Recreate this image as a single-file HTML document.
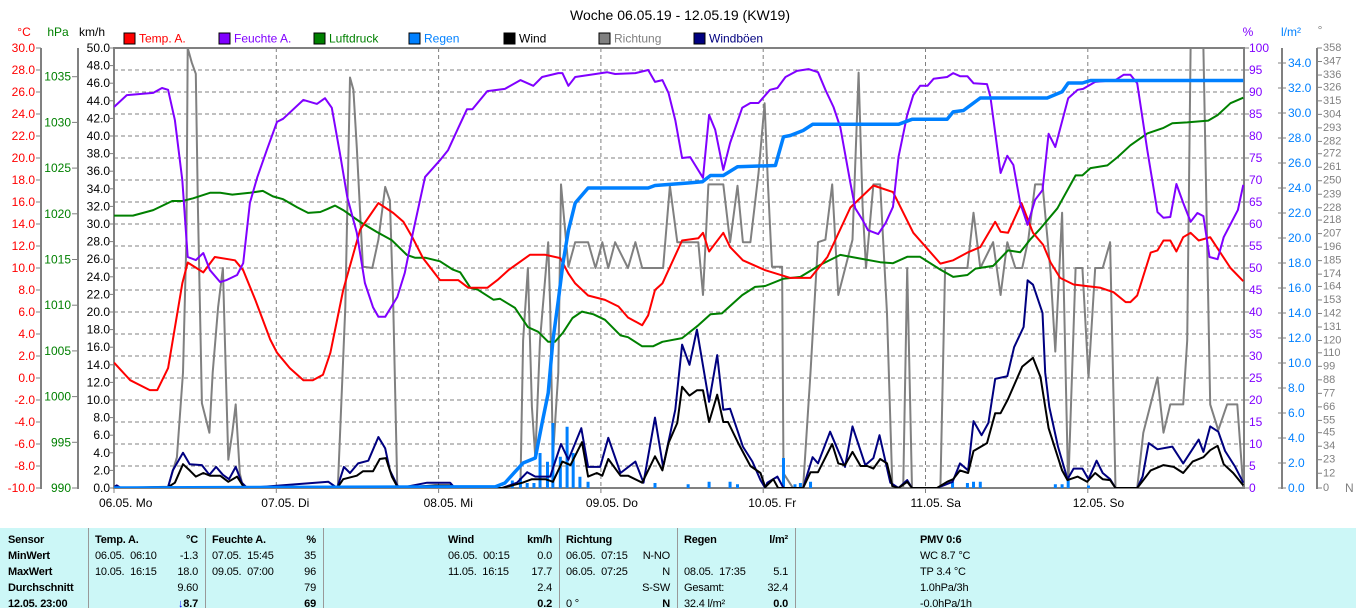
<!DOCTYPE html>
<html><head><meta charset="utf-8">
<style>
body{margin:0;background:#fff;width:1356px;height:608px;overflow:hidden;font-family:"Liberation Sans",sans-serif;}
#wrap{position:relative;width:1356px;height:608px;}
svg{position:absolute;left:0;top:0;}
#tbl{position:absolute;left:0;top:528px;width:1356px;height:80px;background:#ccf7f7;font-size:11px;letter-spacing:-0.2px;color:#000;}
.c{position:absolute;white-space:nowrap;line-height:16px;}
.b{font-weight:bold;}
.vl{position:absolute;top:0;width:1px;height:80px;background:#999;}
</style></head><body>
<div id="wrap">
<svg id="chart" width="1356" height="528" viewBox="0 0 1356 528"></svg>
<div id="tbl">
  <div class="vl" style="left:88px"></div><div class="vl" style="left:205px"></div><div class="vl" style="left:323px"></div>
  <div class="vl" style="left:559px"></div><div class="vl" style="left:677px"></div><div class="vl" style="left:795px"></div>
  <div class="c b" style="left:8px;top:4px">Sensor</div>
  <div class="c b" style="left:8px;top:20px">MinWert</div>
  <div class="c b" style="left:8px;top:36px">MaxWert</div>
  <div class="c b" style="left:8px;top:52px">Durchschnitt</div>
  <div class="c b" style="left:8px;top:68px">12.05. 23:00</div>

  <div class="c b" style="left:95px;top:4px">Temp. A.</div>
  <div class="c b" style="right:1158px;top:4px">°C</div>
  <div class="c" style="left:95px;top:20px">06.05.&nbsp; 06:10</div><div class="c" style="right:1158px;top:20px">-1.3</div>
  <div class="c" style="left:95px;top:36px">10.05.&nbsp; 16:15</div><div class="c" style="right:1158px;top:36px">18.0</div>
  <div class="c" style="right:1158px;top:52px">9.60</div>
  <div class="c b" style="right:1158px;top:68px"><span style="color:#0000ff">↓</span>8.7</div>

  <div class="c b" style="left:212px;top:4px">Feuchte A.</div>
  <div class="c b" style="right:1040px;top:4px">%</div>
  <div class="c" style="left:212px;top:20px">07.05.&nbsp; 15:45</div><div class="c" style="right:1040px;top:20px">35</div>
  <div class="c" style="left:212px;top:36px">09.05.&nbsp; 07:00</div><div class="c" style="right:1040px;top:36px">96</div>
  <div class="c" style="right:1040px;top:52px">79</div>
  <div class="c b" style="right:1040px;top:68px">69</div>

  <div class="c b" style="left:448px;top:4px">Wind</div>
  <div class="c b" style="right:804px;top:4px">km/h</div>
  <div class="c" style="left:448px;top:20px">06.05.&nbsp; 00:15</div><div class="c" style="right:804px;top:20px">0.0</div>
  <div class="c" style="left:448px;top:36px">11.05.&nbsp; 16:15</div><div class="c" style="right:804px;top:36px">17.7</div>
  <div class="c" style="right:804px;top:52px">2.4</div>
  <div class="c b" style="right:804px;top:68px">0.2</div>

  <div class="c b" style="left:566px;top:4px">Richtung</div>
  <div class="c" style="left:566px;top:20px">06.05.&nbsp; 07:15</div><div class="c" style="right:686px;top:20px">N-NO</div>
  <div class="c" style="left:566px;top:36px">06.05.&nbsp; 07:25</div><div class="c" style="right:686px;top:36px">N</div>
  <div class="c" style="right:686px;top:52px">S-SW</div>
  <div class="c" style="left:566px;top:68px">0 °</div><div class="c b" style="right:686px;top:68px">N</div>

  <div class="c b" style="left:684px;top:4px">Regen</div>
  <div class="c b" style="right:568px;top:4px">l/m²</div>
  <div class="c" style="left:684px;top:36px">08.05.&nbsp; 17:35</div><div class="c" style="right:568px;top:36px">5.1</div>
  <div class="c" style="left:684px;top:52px">Gesamt:</div><div class="c" style="right:568px;top:52px">32.4</div>
  <div class="c" style="left:684px;top:68px">32.4 l/m²</div><div class="c b" style="right:568px;top:68px">0.0</div>

  <div class="c b" style="left:920px;top:4px">PMV 0:6</div>
  <div class="c" style="left:920px;top:20px">WC 8.7 °C</div>
  <div class="c" style="left:920px;top:36px">TP 3.4 °C</div>
  <div class="c" style="left:920px;top:52px">1.0hPa/3h</div>
  <div class="c" style="left:920px;top:68px">-0.0hPa/1h</div>
</div>
</div>
<script>
const dayLabels = ["06.05. Mo","07.05. Di","08.05. Mi","09.05. Do","10.05. Fr","11.05. Sa","12.05. So"];
const dirTicks = [358,347,336,326,315,304,293,282,272,261,250,239,228,218,207,196,185,174,164,153,142,131,120,110,99,88,77,66,55,45,34,23,12,0];
const temp = [[0,1.4],[2.4,-0.2],[5.3,-1.1],[6.4,-1.1],[8,0.9],[10.1,8.6],[10.9,10.5],[13.2,9.6],[14.9,11],[17.9,10.7],[19.1,9.8],[20.9,7.1],[23.1,3.5],[24.1,2.3],[26,0.9],[28,-0.2],[29.4,-0.2],[30.9,0.3],[32,2.3],[33.9,8],[36.4,13.5],[39.1,15.9],[41.3,15],[42.8,14.2],[44.2,12.7],[45.7,10.9],[48.2,8.9],[50.9,8.9],[52.4,8.2],[55.2,8.2],[56.7,8.9],[58.3,9.8],[61.5,11.2],[63.8,11.2],[66,10.9],[67.2,9.5],[68.2,8.6],[70.1,7.5],[72.6,7.1],[74.6,6.5],[76,5.5],[78.1,4.8],[79,5.7],[80,8],[81.1,8.6],[84,12.5],[86.4,12.7],[87.1,13.2],[88,11.5],[90.1,13.2],[91.1,11.9],[93,10.7],[96.3,9.8],[100,9.1],[103,9.1],[105.5,11],[108.9,15.5],[112.3,17.5],[115.2,16.9],[118.2,13.2],[122.2,10.4],[124.1,10.7],[126.2,11.4],[128.1,11.9],[130.3,14.2],[131.1,13.3],[132.2,13.2],[134.2,15.9],[135.9,13.2],[137.4,12.1],[138.5,10.5],[139.9,9.1],[141.9,8.5],[145.9,8.2],[147.8,7.8],[149.6,6.9],[150.3,6.9],[151.3,7.5],[153.3,11.4],[154.3,11.6],[155.2,12.5],[156.2,12.5],[157.1,11.5],[158.1,12.8],[159.2,13.2],[160.4,12.5],[162.1,12.8],[163.6,11.4],[165.1,10],[167,8.8]];
const humidity = [[0,86.6],[1.9,89.3],[5.8,89.8],[7.1,90.9],[8,90.5],[9,83.6],[10.1,70],[10.9,52.5],[12.1,51.8],[13.2,53.4],[14.2,49.5],[15.7,46.8],[16.7,47.3],[18.2,48.4],[19.1,51.1],[20.1,64.8],[21.2,70.7],[22.6,76.8],[24.1,83.2],[25,83.9],[28,88.2],[30,87.3],[31.2,88.6],[32.2,86.4],[33.4,76.1],[34.5,66.1],[35.9,58],[37.1,46.6],[38.3,41.1],[39.1,38.9],[40.1,38.9],[41.9,43.4],[43,48.9],[44.2,58],[46,70.7],[48.2,74.5],[49.4,76.8],[50.9,81.8],[52.2,86.1],[53,86.1],[55.2,90.2],[57.8,90.7],[60.1,92.7],[62,91.4],[63.3,93.4],[65.7,94.3],[66.3,94.3],[67.2,91.4],[68.2,93.4],[71.2,94.1],[72.9,94.5],[74.1,94.1],[77.1,94.3],[79,95],[80,92.3],[81.1,92.7],[82,89.8],[83,83.6],[84,75],[85.2,75.2],[87.1,70.5],[88,84.8],[88.9,81.4],[90.1,72.3],[91.1,78.4],[92.9,86.4],[94.1,87.5],[95.3,87.5],[97,90.5],[98.1,90.9],[99.3,93.4],[101,94.8],[102.7,95.2],[104.1,94.5],[105.2,90.5],[106.4,86.6],[107.4,82],[108.1,76.1],[108.9,69.3],[109.6,63.6],[110.7,60.9],[111.5,58.6],[113,57.7],[114.1,60.2],[115.2,63.9],[116,75.2],[117.3,84.8],[118.2,89.3],[119.2,91.4],[120.3,91.4],[121.2,93],[123.2,93.4],[124.1,94.3],[125.1,93.6],[126.2,93.6],[127.1,92],[129.1,91.8],[129.6,88.9],[131.1,71.6],[132.1,75.5],[133,73.4],[134,64.8],[135.1,59.8],[136.2,65.5],[137.3,67.7],[138.2,80.5],[139.2,77.5],[141.1,88.6],[142.5,90.5],[143.3,90.7],[145.1,92.3],[148.1,92.7],[149.3,93.9],[150.3,93.9],[151.3,92],[152.8,76.8],[154.3,62.7],[155.2,61.4],[156.2,61.6],[157.1,69.1],[158.1,64.8],[159.2,60.5],[160.2,62.5],[161.1,61.8],[162,52.5],[163.2,52],[164.1,57],[166.2,63.2],[167,68.9]];
const pressure = [[0,1019.8],[2.8,1019.8],[4.3,1020.1],[5.8,1020.4],[8.6,1021.4],[10.1,1021.4],[11.7,1021.7],[14.2,1022.3],[15.7,1022.3],[17.5,1022.1],[20.1,1022.3],[22,1022.5],[23.5,1021.9],[25,1021.6],[27.1,1020.7],[28.7,1020.1],[30.5,1020.2],[31.5,1020.5],[32.7,1020.9],[33.9,1020.4],[36.4,1019.1],[38.9,1018],[41.1,1017.1],[43.3,1015.5],[44.5,1015.2],[46,1015.2],[48.2,1014.8],[50.1,1013.9],[51.2,1013.6],[52.7,1011.9],[53.8,1011.7],[56.1,1010.6],[57.1,1010.7],[59.3,1009.7],[61.2,1007.6],[62.7,1007.1],[64.2,1006],[65.2,1006],[66.4,1007],[67.8,1008.6],[69.2,1009.3],[70.9,1009],[72.6,1008.4],[74.9,1006.7],[76,1006.5],[78.1,1005.5],[79.7,1005.5],[81.1,1006],[84,1006.4],[86.4,1007.8],[88.2,1009],[89.9,1009.1],[92.9,1011.1],[94.8,1012],[96.3,1012.1],[99,1012.9],[101.5,1013.1],[104.4,1014.4],[107.4,1015.5],[110.4,1015.1],[113.3,1014.7],[115.2,1014.6],[117.3,1015.3],[119.2,1015.3],[122.2,1013.9],[124.1,1013.1],[126.2,1013.3],[127.4,1014],[130,1014.3],[132.2,1016],[134,1015.8],[135.5,1017.2],[137,1018.4],[139.5,1020.6],[142.2,1024.2],[143.2,1024.2],[144.4,1025],[146.9,1025.3],[148.4,1026.2],[150.3,1027.5],[152.8,1028.8],[155.2,1029.4],[156.5,1029.9],[158.7,1030],[161.8,1030.2],[163.2,1030.8],[165.1,1032.1],[167,1032.7]];
const rainTotal = [[0,0],[56.4,0.1],[57.8,0.4],[59.3,1.3],[60.5,2],[62.3,2.4],[63.3,5.2],[64.2,7.6],[64.9,11.8],[65.7,15],[66.4,18],[67.2,20.6],[68.2,22.8],[70.1,24],[79,24],[80,24.2],[84.9,24.4],[87,24.5],[88.2,25],[90.1,25],[92.2,25.7],[97.8,25.8],[99,28.1],[100,28.2],[101.9,28.6],[103.3,29.1],[116,29.1],[118,29.5],[123.2,29.5],[124.1,30.1],[125.6,30.2],[128.1,31.2],[138,31.2],[140.2,31.7],[141.1,32.4],[143.2,32.4],[144.4,32.6],[167,32.6]];
const rainBars = [[58.9,0.6],[60.1,0.8],[61.1,0.4],[62.1,0.4],[63,2.8],[64.1,2.1],[64.9,5.2],[66,2.5],[67,4.9],[67.9,2.8],[68.9,0.9],[70.1,0.5],[80,0.4],[84.9,0.3],[88,0.5],[91.1,0.5],[92.2,0.3],[99,2.4],[100.7,0.3],[101.5,0.4],[103,0.5],[124,0.5],[126.2,0.4],[127.1,0.5],[128.1,0.5],[139.2,0.3],[140.2,0.3],[141.1,0.6],[144.1,0.2]];
const wind = [[0,0],[8,0.1],[9,0.6],[10.2,2.7],[11.2,2],[12.1,1.3],[13.2,1.7],[14.2,1.4],[15.7,1.4],[16.9,0.7],[18.2,1.3],[19.1,0.2],[19.7,0],[33,0],[33.9,1],[35.9,1.4],[36.8,1.9],[38.3,1.9],[39.3,3.3],[40.2,3.4],[41.1,1.3],[42,0],[47.5,0.3],[49.7,0.3],[50.4,0],[57.4,0],[60.4,0.6],[61.8,1],[63.8,1],[64.9,0.7],[66.3,3],[67.5,2.6],[69.2,5.2],[70.1,1.3],[71.4,1.7],[72.2,1.4],[73.1,3.3],[74.9,1.4],[76,1.4],[78.1,0.6],[80,3.6],[81.1,2],[82,5.1],[83.3,7.4],[84,11.5],[85.1,10.5],[86.2,11.1],[87.1,11.1],[88,7.5],[89.2,10.6],[90.1,7.5],[90.8,7.5],[92.3,5.1],[94.1,2.5],[95.6,1.7],[96.3,0.1],[97.5,1],[98.2,0],[101.9,0],[103,1.8],[104.1,1.8],[106.2,5],[107.1,2.8],[108.1,2.6],[109.2,4.1],[110.4,2.5],[111.4,2.5],[112.3,2.2],[113.3,3.3],[114.3,2.8],[115.1,0.2],[116,0],[117.3,0.7],[118,0],[121.7,0],[123.2,0.7],[124.1,1],[125.1,2],[126.3,1.7],[127.1,4.2],[129.1,5.1],[130.3,8.5],[131.1,8.5],[132.2,10.1],[134.3,13.8],[135.9,14.8],[137,12.6],[138.2,6.8],[140.2,2],[141,0.9],[142.5,1.3],[143.9,0.7],[145.1,1.7],[146.2,1],[147.3,0.9],[148.1,0],[151.3,0],[152.2,0.9],[153.3,2],[155.2,2.6],[156.7,2.4],[158.1,1.7],[159.5,3],[161.1,3.5],[162.1,4.3],[163.2,4.8],[164.1,2.7],[165.5,1.7],[167,0.3]];
const gusts = [[0,0.1],[0.4,0.3],[1,0],[8,0.1],[8.7,2],[10.2,4],[11.2,2.7],[13,2.6],[14.1,1.5],[15.1,2.4],[16.1,1.5],[17,1],[18,2.4],[18.9,0.6],[19.7,0],[31.7,0.7],[33,0],[34,2.4],[34.9,1.7],[36.1,2.8],[37.6,3.1],[39.1,5.8],[40.1,4.5],[40.8,2],[41.9,0.3],[42.3,0],[46.3,0.6],[47.5,0.6],[49.7,0.6],[50.4,0],[57.4,0],[59.6,0.6],[61.1,1.8],[62.3,1.3],[64.5,1.3],[66.1,5],[67.2,3.2],[69.1,6.8],[70.1,2.4],[71.9,2.4],[73.1,5.7],[74.9,1.7],[77.1,3],[78.3,0.6],[80,8],[81.2,2.4],[83,8.9],[84,16.3],[85.1,14],[86.2,18],[88,9.8],[89.2,15.1],[90.1,8.9],[91.1,9],[93,4.7],[94.4,3],[95.6,0.9],[96.3,0],[96.6,0.6],[98.1,1.3],[99,0],[101.9,0],[103.3,3.5],[104.1,2.8],[105.9,6.4],[108.1,2.4],[109.2,7],[111.1,2.6],[112.3,3.4],[113.2,6],[114.8,0.6],[116,0],[117.3,0.9],[118,0],[121.7,0],[124,0.7],[125.1,2.8],[126.3,2],[127.1,7.6],[128.3,6],[129.3,7.4],[130.3,12.4],[132.1,12.7],[133.1,16],[134.5,18.3],[135.1,23.6],[135.9,23.1],[137.3,19.9],[137.7,13.1],[138.3,9.2],[139.6,4.7],[141,1],[141.9,2.2],[143.2,2.2],[144.1,1],[145.3,3.1],[146.2,1.7],[147.3,1],[148.1,0],[151.3,0],[152.1,1.3],[153,5.1],[154.3,4.4],[156.5,4.7],[158.1,2.8],[160.4,5.5],[161.1,4.1],[162.1,7],[163.3,6.4],[164.3,4.2],[165.8,2.4],[167,0.6]];
const direction = [[0,0],[8,1],[9.3,25],[10.2,94],[10.7,202],[10.9,358],[11.5,346],[12.1,337],[12.4,229],[13,69],[14.1,45],[14.6,94],[15.4,147],[16.1,179],[16.4,120],[16.9,23],[17.5,45],[18,68],[18.6,12],[19.1,0],[33.1,0],[34.2,147],[34.9,334],[35.4,324],[35.9,277],[36.8,180],[38.2,179],[39.1,202],[40.1,245],[40.8,234],[41.3,147],[41.9,0],[60.1,0],[60.5,120],[61.2,179],[61.8,66],[62.3,25],[63,120],[64.2,200],[64.5,147],[64.9,25],[65.7,94],[66.1,247],[66.4,229],[67.2,180],[68.2,200],[70.1,200],[71.2,179],[72.2,200],[73.1,179],[74.1,200],[76,179],[77.1,200],[78.1,179],[81.2,179],[82.2,246],[83.3,200],[86.4,200],[87.1,157],[87.9,247],[90.1,247],[91.1,200],[92.2,246],[93,200],[94.1,200],[95.3,256],[96.2,313],[96.7,248],[97.3,180],[98.8,180],[99,12],[100.4,0],[101.9,0],[103,94],[104.1,200],[105.2,202],[106.2,247],[107.1,157],[109.2,202],[110.1,338],[110.7,229],[111.2,179],[112.3,247],[113.3,247],[114.3,142],[115.1,0],[116.7,0],[117.3,179],[118,0],[122.2,0],[122.9,179],[126.2,179],[127.1,224],[128.1,179],[130,200],[131.1,157],[132.1,200],[133.3,179],[134.3,179],[135.2,202],[136.2,247],[137.3,247],[138.5,175],[139.2,111],[140.2,224],[141.1,0],[142.2,179],[143.2,179],[144.1,90],[145.1,179],[146.2,179],[147.3,200],[148.1,0],[151.3,0],[152.2,45],[154.3,90],[155.2,45],[156.2,68],[158.1,68],[158.7,120],[159.2,358],[161.1,358],[162.1,68],[163.3,47],[164.6,68],[166.1,68],[167,0]];

const NS="http://www.w3.org/2000/svg";
const svg=document.getElementById('chart');
const L=114,R=1244,T=48,B=488,PH=B-T;
const xOf=h=>L+h*(162.3/24);
const yTemp=v=>B-(v+10)*11;
const yHum=v=>B-v*4.4;
const yPres=v=>B-(v-990)*9.14;
const yWind=v=>B-v*8.8;
const yRain=v=>B-v*12.5;
const yDir=v=>B-v*(PH/358);
function el(tag,attrs,parent){const e=document.createElementNS(NS,tag);for(const k in attrs)e.setAttribute(k,attrs[k]);(parent||svg).appendChild(e);return e;}
function txt(s,x,y,color,anchor,size,name){const t=el('text',{x:x,y:y,fill:color,'font-size':size||12,'text-anchor':anchor||'start','dominant-baseline':'central','font-family':'Liberation Sans, sans-serif'});t.textContent=s;return t;}

txt("Woche 06.05.19 - 12.05.19 (KW19)",680,15,'#000','middle',14,'chart-title');
txt("°C",24,32,'#ff0000','middle',12,'temp-unit');
txt("hPa",58,32,'#008000','middle',12,'pressure-unit');
txt("km/h",92,32,'#000','middle',12,'wind-unit');
txt("%",1248,32,'#8000ff','middle',12,'humidity-unit');
txt("l/m²",1291,32,'#0080ff','middle',12,'rain-unit');
txt("°",1320,30,'#808080','middle',12,'direction-unit');

const legNames=["Temp. A.","Feuchte A.","Luftdruck","Regen","Wind","Richtung","Windböen"];
const legColors=["#ff0000","#8000ff","#008000","#0080ff","#000000","#808080","#000080"];
legNames.forEach((n,i)=>{
  const g=el('g',{});
  
  
  const bx=124+i*95;
  el('rect',{x:bx,y:33,width:11,height:11,fill:legColors[i],stroke:'#000','stroke-width':1},g);
  const t=txt(n,bx+15,38.5,legColors[i],'start',12,'legend-label');g.appendChild(t);
});

for(let k=1;k<20;k++){const y=T+k*22;const ln=el('line',{x1:L,x2:R,y1:y,y2:y,stroke:'#808080','stroke-dasharray':'4,3','stroke-width':1});}
for(let d=1;d<7;d++){const x=xOf(d*24);const ln=el('line',{x1:x,x2:x,y1:T,y2:B,stroke:'#808080','stroke-dasharray':'4,3','stroke-width':1});}

el('line',{x1:41,x2:41,y1:T,y2:B+1,stroke:'#808080','stroke-width':2});
el('line',{x1:78,x2:78,y1:T,y2:B+1,stroke:'#808080','stroke-width':2});
for(let v=-10;v<=30;v+=2){const y=yTemp(v);el('line',{x1:36,x2:41,y1:y,y2:y,stroke:'#808080'});txt(v.toFixed(1),35,y,'#ff0000','end',12,'temp-tick');}
for(let v=990;v<=1035;v+=5){const y=yPres(v);el('line',{x1:72,x2:78,y1:y,y2:y,stroke:'#808080'});txt(String(v),71,y,'#008000','end',12,'pressure-tick');}
for(let v=0;v<=50;v+=2){const y=yWind(v);el('line',{x1:110,x2:114,y1:y,y2:y,stroke:'#808080'});txt(v.toFixed(1),110,y,'#000','end',12,'wind-tick');}
for(let v=0;v<=100;v+=5){const y=yHum(v);el('line',{x1:R,x2:R+5,y1:y,y2:y,stroke:'#808080'});txt(String(v),1249,y,'#8000ff','start',12,'humidity-tick');}
el('line',{x1:1282,x2:1282,y1:T,y2:B+1,stroke:'#808080','stroke-width':2});
for(let v=0;v<=34;v+=2){const y=yRain(v);el('line',{x1:1278,x2:1286,y1:y,y2:y,stroke:'#808080'});txt(v.toFixed(1),1288,y,'#0080ff','start',12,'rain-tick');}
el('line',{x1:1317,x2:1317,y1:T,y2:B+1,stroke:'#808080','stroke-width':2});
dirTicks.forEach(v=>{const y=yDir(v);el('line',{x1:1317,x2:1322,y1:y,y2:y,stroke:'#808080'});txt(String(v),1323,y,'#808080','start',11,'direction-tick');});
txt("N",1345,488,'#808080','start',12,'direction-north');
dayLabels.forEach((s,i)=>{const x=xOf(i*24);el('line',{x1:x,x2:x,y1:B,y2:B+5,stroke:'#808080'});txt(s,x-15,503,'#000','start',12,'day-label');});

const fr=el('rect',{x:L,y:T,width:R-L,height:PH,fill:'none',stroke:'#808080','stroke-width':2});

el('clipPath',{id:'pc'}).appendChild(document.createElementNS(NS,'rect'));
const cr=svg.querySelector('#pc rect');cr.setAttribute('x',L);cr.setAttribute('y',T-1);cr.setAttribute('width',R-L);cr.setAttribute('height',PH+1);
const plot=el('g',{'clip-path':'url(#pc)'});

function line(data,yf,color,w,name){
  const d=data.map((p,i)=>(i?'L':'M')+xOf(p[0]).toFixed(1)+','+yf(p[1]).toFixed(1)).join(' ');
  const p=el('path',{d:d,fill:'none',stroke:color,'stroke-width':w,'stroke-linejoin':'round'},plot);
  
  
}
line(direction,yDir,'#808080',2,'direction-line');
rainBars.forEach(p=>{
  const x=xOf(p[0]);const y=yRain(p[1]);
  const r=el('rect',{x:x-1.5,y:y,width:3,height:B-y,fill:'#0080ff'},plot);
  
  
});
line(gusts,yWind,'#000080',2,'gust-line');
line(wind,yWind,'#000000',2,'wind-line');
line(pressure,yPres,'#008000',2,'pressure-line');
line(temp,yTemp,'#ff0000',2,'temperature-line');
line(humidity,yHum,'#8000ff',2,'humidity-line');
line(rainTotal,yRain,'#0080ff',3.5,'rain-total-line');
</script>
</body></html>
